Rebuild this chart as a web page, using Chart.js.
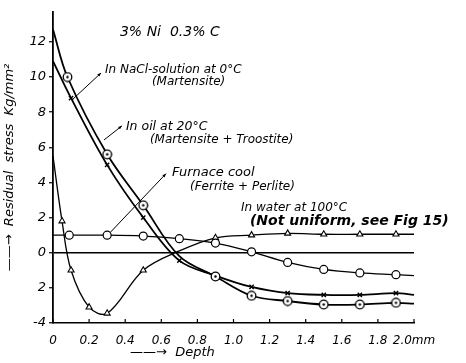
<!DOCTYPE html>
<html><head><meta charset="utf-8">
<script src="https://cdn.jsdelivr.net/npm/chart.js@4/dist/chart.umd.min.js"></script>
<style>html,body{margin:0;padding:0;background:#fff}#wrap{width:466px;height:363px}</style>
</head><body><div id="wrap"><canvas id="c" width="466" height="363"></canvas></div>
<script>
// Depth (mm) and residual stress (kg/mm^2)
const depthNaCl  = [0, 0.08, 0.3, 0.5, 0.7, 0.9, 1.1, 1.3, 1.5, 1.7, 1.9, 2.0];
const stressNaCl = [12.7, 10.0, 5.6, 2.7, -0.2, -1.35, -2.45, -2.75, -2.95, -2.95, -2.85, -2.9];
const markNaCl   = [0.08, 0.3, 0.5, 0.9, 1.1, 1.3, 1.5, 1.7, 1.9];

const depthOil  = [0, 0.1, 0.3, 0.5, 0.7, 0.9, 1.1, 1.3, 1.5, 1.7, 1.9, 2.0];
const stressOil = [10.9, 8.8, 5.0, 2.0, -0.45, -1.3, -1.95, -2.3, -2.4, -2.4, -2.3, -2.4];
const markOil   = [0.1, 0.3, 0.5, 0.7, 1.1, 1.3, 1.5, 1.7, 1.9];

const depthFurnace  = [0, 0.09, 0.3, 0.5, 0.7, 0.9, 1.1, 1.3, 1.5, 1.7, 1.9, 2.0];
const stressFurnace = [1.0, 1.0, 1.0, 0.95, 0.8, 0.55, 0.05, -0.55, -0.95, -1.15, -1.25, -1.3];
const markFurnace   = [0.09, 0.3, 0.5, 0.7, 0.9, 1.1, 1.3, 1.5, 1.7, 1.9];

const depthWater  = [0, 0.05, 0.1, 0.2, 0.3, 0.5, 0.7, 0.9, 1.1, 1.3, 1.5, 1.7, 1.9, 2.0];
const stressWater = [5.5, 1.8, -1.0, -3.1, -3.45, -1.0, 0.1, 0.85, 1.0, 1.1, 1.05, 1.05, 1.05, 1.05];
const markWater   = [0.05, 0.1, 0.2, 0.3, 0.5, 0.9, 1.1, 1.3, 1.5, 1.7, 1.9];

const xTicks = [0, 0.2, 0.4, 0.6, 0.8, 1.0, 1.2, 1.4, 1.6, 1.8, 2.0];
const xTickLabels = ["0", "0.2", "0.4", "0.6", "0.8", "1.0", "1.2", "1.4", "1.6", "1.8", "2.0mm"];
const yTicks = [-4, -2, 0, 2, 4, 6, 8, 10, 12];
const yTickLabels = ["-4", "2", "0", "2", "4", "6", "8", "10", "12"];

const pts = (xs, ys) => xs.map((x, i) => ({x: x, y: ys[i]}));

// circle-with-dot marker
const dotCircle = document.createElement('canvas');
dotCircle.width = 11; dotCircle.height = 11;
(function(){
  const g = dotCircle.getContext('2d');
  g.fillStyle = '#fff'; g.strokeStyle = '#000'; g.lineWidth = 1.3;
  g.beginPath(); g.arc(5.5, 5.5, 4.3, 0, Math.PI*2); g.fill(); g.stroke();
  g.fillStyle = '#000'; g.beginPath(); g.arc(5.5, 5.5, 1.2, 0, Math.PI*2); g.fill();
})();

const FONT = "'DejaVu Sans', sans-serif";

const annotations = {
  texts: [
    {t: "3% Ni  0.3% C", x: 0.371, y: 12.56, f: "italic 14px " + FONT},
    {t: "In NaCl-solution at 0°C", x: 0.288, y: 10.4, f: "italic 12px " + FONT},
    {t: "(Martensite)", x: 0.548, y: 9.7, f: "italic 12px " + FONT},
    {t: "In oil at 20°C", x: 0.404, y: 7.16, f: "italic 12.5px " + FONT},
    {t: "(Martensite + Troostite)", x: 0.537, y: 6.45, f: "italic 12px " + FONT},
    {t: "Furnace cool", x: 0.659, y: 4.58, f: "italic 13px " + FONT},
    {t: "(Ferrite + Perlite)", x: 0.759, y: 3.77, f: "italic 12px " + FONT},
    {t: "In water at 100°C", x: 1.042, y: 2.56, f: "italic 12px " + FONT},
    {t: "(Not uniform, see Fig 15)", x: 1.091, y: 1.78, f: "italic 600 14px " + FONT}
  ],
  leaders: [
    {x1: 0.266, y1: 10.23, x2: 0.111, y2: 8.75},
    {x1: 0.382, y1: 7.22, x2: 0.283, y2: 6.42},
    {x1: 0.626, y1: 4.5, x2: 0.316, y2: 1.14}
  ],
  depthTitle: {t: "\u2014\u2014\u2192  Depth", x: 0.427}
};

const annotPlugin = {
  id: 'annot',
  afterDraw(chart) {
    const c = chart.ctx, xs = chart.scales.x, ys = chart.scales.y;
    c.save();
    c.fillStyle = '#000'; c.strokeStyle = '#000';
    c.textAlign = 'left'; c.textBaseline = 'middle';
    annotations.texts.forEach(a => {
      c.font = a.f;
      c.fillText(a.t, xs.getPixelForValue(a.x), ys.getPixelForValue(a.y));
    });
    c.lineWidth = 1;
    annotations.leaders.forEach(l => {
      const x1 = xs.getPixelForValue(l.x1), y1 = ys.getPixelForValue(l.y1);
      const x2 = xs.getPixelForValue(l.x2), y2 = ys.getPixelForValue(l.y2);
      c.beginPath(); c.moveTo(x1, y1); c.lineTo(x2, y2); c.stroke();
      const ang = Math.atan2(y1 - y2, x1 - x2);
      c.beginPath();
      c.moveTo(x1, y1);
      c.lineTo(x1 - 4*Math.cos(ang - 0.4), y1 - 4*Math.sin(ang - 0.4));
      c.lineTo(x1 - 4*Math.cos(ang + 0.4), y1 - 4*Math.sin(ang + 0.4));
      c.closePath(); c.fill();
    });
    // inward x ticks
    c.lineWidth = 1.2;
    const yb = chart.chartArea.bottom;
    xTicks.forEach(v => {
      const px = xs.getPixelForValue(v);
      c.beginPath(); c.moveTo(px, yb); c.lineTo(px, yb - 4); c.stroke();
    });
    // depth title
    c.font = "italic 13px " + FONT;
    c.fillText(annotations.depthTitle.t, xs.getPixelForValue(annotations.depthTitle.x), yb + 30);
    c.restore();
  }
};

const radiusFor = (marks, r) => ctx => (ctx.raw && marks.includes(ctx.raw.x)) ? r : 0;

new Chart(document.getElementById('c'), {
  type: 'line',
  data: {
    datasets: [
      {label: 'In NaCl-solution at 0°C (Martensite)', data: pts(depthNaCl, stressNaCl),
       borderColor: '#000', borderWidth: 1.8, pointStyle: dotCircle,
       pointRadius: radiusFor(markNaCl, 5), tension: 0.35},
      {label: 'In oil at 20°C (Martensite + Troostite)', data: pts(depthOil, stressOil),
       borderColor: '#000', borderWidth: 1.8, pointStyle: 'crossRot', pointBorderColor: '#000',
       pointBorderWidth: 1.4, pointRadius: radiusFor(markOil, 3), tension: 0.35},
      {label: 'Furnace cool (Ferrite + Perlite)', data: pts(depthFurnace, stressFurnace),
       borderColor: '#000', borderWidth: 1.3, pointStyle: 'circle', pointBackgroundColor: '#fff',
       pointBorderColor: '#000', pointBorderWidth: 1.2, pointRadius: radiusFor(markFurnace, 4),
       tension: 0.35},
      {label: 'In water at 100°C', data: pts(depthWater, stressWater),
       borderColor: '#000', borderWidth: 1.3, pointStyle: 'triangle', pointBackgroundColor: '#fff',
       pointBorderColor: '#000', pointBorderWidth: 1.1, pointRadius: radiusFor(markWater, 3.5),
       tension: 0.35}
    ]
  },
  options: {
    responsive: false, animation: false,
    layout: {padding: {top: 12, right: 52, left: 0, bottom: 0}},
    plugins: {legend: {display: false}, tooltip: {enabled: false}},
    scales: {
      x: {
        type: 'linear', min: 0, max: 2.0,
        afterFit(s) { s.height = 40; },
        afterBuildTicks(s) { s.ticks = xTicks.map(v => ({value: v})); },
        grid: {display: false},
        border: {display: true, color: '#000', width: 1.5},
        ticks: {padding: 3, color: '#000', font: {family: FONT, style: 'italic', size: 12},
          maxRotation: 0, autoSkip: false,
          callback: (v) => { const i = xTicks.findIndex(t => Math.abs(t - v) < 1e-6); return i >= 0 ? xTickLabels[i] : ''; }}
      },
      y: {
        type: 'linear', min: -4, max: 13.7,
        afterFit(s) { s.width = 53; },
        afterBuildTicks(s) { s.ticks = yTicks.map(v => ({value: v})); },
        grid: {drawOnChartArea: true, drawTicks: true, tickLength: 4, tickColor: '#000', tickWidth: 1.2,
          color: ctx => (ctx.tick && ctx.tick.value === 0) ? '#000' : 'rgba(0,0,0,0)', lineWidth: 1.5},
        border: {display: true, color: '#000', width: 1.8},
        ticks: {padding: 3, color: '#000', font: {family: FONT, style: 'italic', size: 13},
          callback: (v) => { const i = yTicks.indexOf(v); return i >= 0 ? yTickLabels[i] : ''; }},
        title: {display: true, text: '\u2014\u2014\u2192  Residual  stress  Kg/mm\u00b2', color: '#000',
          font: {family: FONT, style: 'italic', size: 13}, padding: {top: 2, bottom: 0}}
      }
    }
  },
  plugins: [annotPlugin]
});
</script>
</body></html>
